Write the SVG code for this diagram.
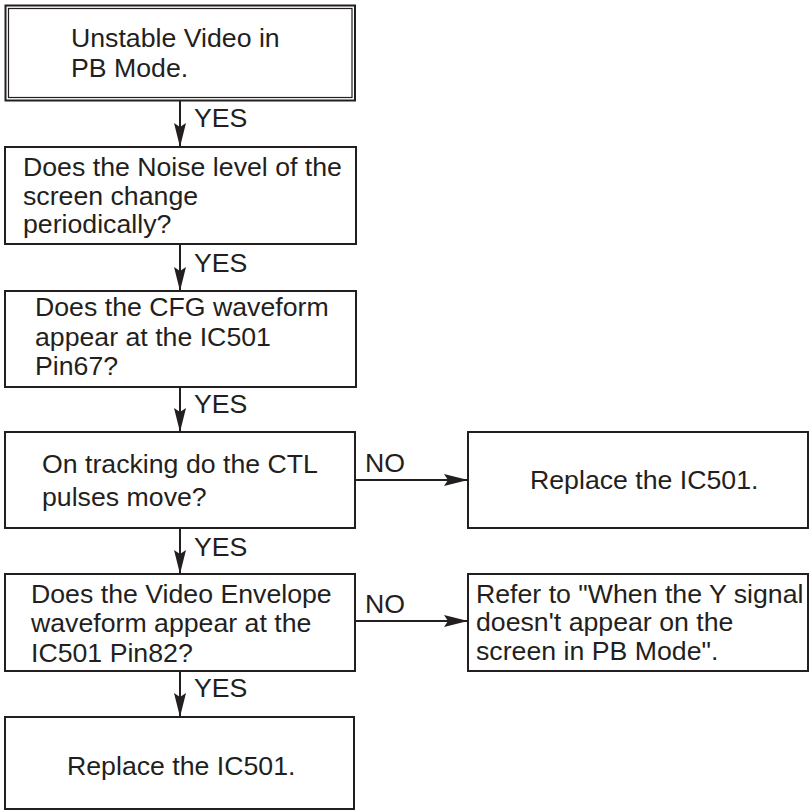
<svg xmlns="http://www.w3.org/2000/svg" width="810" height="811" viewBox="0 0 810 811">
<style>
.box{fill:#fff;stroke:#231f20;stroke-width:2}
.t{font-family:"Liberation Sans",Arial,sans-serif;font-size:26.7px;fill:#231f20}
.c{stroke:#231f20;stroke-width:2;fill:none}
</style>
<defs>
<marker id="ah" viewBox="0 0 24 12" refX="24" refY="6" markerWidth="24" markerHeight="12" markerUnits="userSpaceOnUse" orient="auto">
<path d="M0,0 L24,6 L0,12 L4,6 Z" fill="#231f20"/>
</marker>
</defs>
<rect width="810" height="811" fill="#fff"/>
<g id="n1">
<rect x="5.5" y="5.5" width="349.5" height="95" fill="#fff" stroke="#231f20" stroke-width="2"/>
<rect x="8.5" y="8.5" width="343.5" height="89" fill="none" stroke="#231f20" stroke-width="1.2"/>
<text class="t" x="71" y="47">Unstable Video in</text>
<text class="t" x="71" y="77">PB Mode.</text>
</g>
<g id="n2">
<rect class="box" x="5" y="147" width="351" height="97"/>
<text class="t" x="23" y="176">Does the Noise level of the</text>
<text class="t" x="23" y="205">screen change</text>
<text class="t" x="23" y="233">periodically?</text>
</g>
<g id="n3">
<rect class="box" x="5" y="291" width="351" height="96"/>
<text class="t" x="35" y="316">Does the CFG waveform</text>
<text class="t" x="35" y="346">appear at the IC501</text>
<text class="t" x="35" y="375">Pin67?</text>
</g>
<g id="n4">
<rect class="box" x="5" y="432" width="350" height="96"/>
<text class="t" x="42" y="473">On tracking do the CTL</text>
<text class="t" x="42" y="506">pulses move?</text>
</g>
<g id="n5">
<rect class="box" x="468" y="432" width="340" height="96"/>
<text class="t" x="530" y="489">Replace the IC501.</text>
</g>
<g id="n6">
<rect class="box" x="5" y="574" width="350" height="97"/>
<text class="t" x="31" y="603">Does the Video Envelope</text>
<text class="t" x="31" y="632">waveform appear at the</text>
<text class="t" x="31" y="662">IC501 Pin82?</text>
</g>
<g id="n7">
<rect class="box" x="468" y="574" width="340" height="97"/>
<text class="t" x="476" y="603">Refer to "When the Y signal</text>
<text class="t" x="476" y="631">doesn't appear on the</text>
<text class="t" x="476" y="660">screen in PB Mode".</text>
</g>
<g id="n8">
<rect class="box" x="5" y="717" width="349" height="92"/>
<text class="t" x="67" y="775">Replace the IC501.</text>
</g>
<g id="connectors">
<line class="c" x1="180" y1="101" x2="180" y2="147" marker-end="url(#ah)"/>
<line class="c" x1="180" y1="244" x2="180" y2="291" marker-end="url(#ah)"/>
<line class="c" x1="180" y1="387" x2="180" y2="432" marker-end="url(#ah)"/>
<line class="c" x1="180" y1="528" x2="180" y2="574" marker-end="url(#ah)"/>
<line class="c" x1="180" y1="671" x2="180" y2="717" marker-end="url(#ah)"/>
<line class="c" x1="355" y1="480" x2="468" y2="480" marker-end="url(#ah)"/>
<line class="c" x1="355" y1="621" x2="468" y2="621" marker-end="url(#ah)"/>
<text class="t" x="194" y="127">YES</text>
<text class="t" x="194" y="272">YES</text>
<text class="t" x="194" y="413">YES</text>
<text class="t" x="194" y="556">YES</text>
<text class="t" x="194" y="697">YES</text>
<text class="t" x="365" y="472">NO</text>
<text class="t" x="365" y="613">NO</text>
</g>
</svg>
